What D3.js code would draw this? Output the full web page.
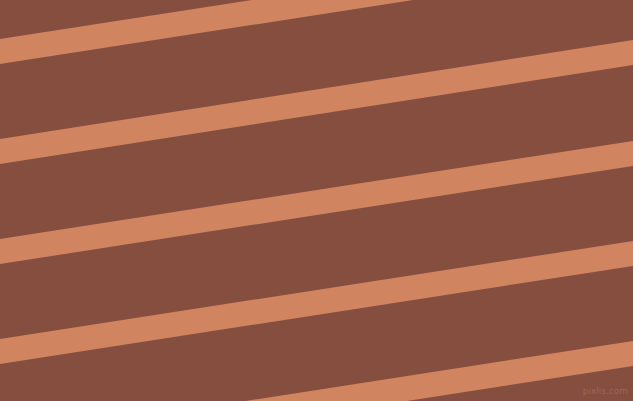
<!DOCTYPE html>
<html>
<head>
<meta charset="utf-8">
<script src="https://cdn.jsdelivr.net/npm/d3@7"></script>
<style>
  html, body { margin: 0; padding: 0; overflow: hidden; }
  svg { display: block; }
</style>
</head>
<body>
<svg id="chart"></svg>
<script>
// stripe top edge at the left border (y, px) and at the right border
const stripeLeft = [-61, 39, 139, 239, 339, 439];
const stripeRight = [-159, -59, 40, 141, 241, 341];
const stripeWidth = [25, 25, 25, 25, 25, 25];
const watermark = ["pixlis.com"];

const width = 633, height = 401;

const svg = d3.select("#chart")
    .attr("width", width)
    .attr("height", height);

const x = d3.scaleLinear().domain([0, 1]).range([0, width]);
const y = d3.scaleLinear().domain([0, height]).range([0, height]);

svg.append("rect")
    .attr("width", width)
    .attr("height", height)
    .attr("fill", "#854e3f");

const line = d3.line()
    .x(d => x(d[0]))
    .y(d => y(d[1]));

svg.selectAll(".stripe")
    .data(stripeLeft.map((l, i) => ({ l: l, r: stripeRight[i], w: stripeWidth[i] })))
    .enter()
    .append("path")
    .attr("class", "stripe")
    .attr("fill", "#d08460")
    .attr("d", d => line([[0, d.l], [1, d.r], [1, d.r + d.w], [0, d.l + d.w]]) + "Z");

svg.selectAll(".wm")
    .data(watermark)
    .enter()
    .append("text")
    .attr("class", "wm")
    .attr("x", width - 5)
    .attr("y", height - 7)
    .attr("text-anchor", "end")
    .style("font-family", "DejaVu Sans, sans-serif")
    .style("font-size", "9px")
    .style("fill", "#9b6657")
    .text(d => d);
</script>
</body>
</html>
